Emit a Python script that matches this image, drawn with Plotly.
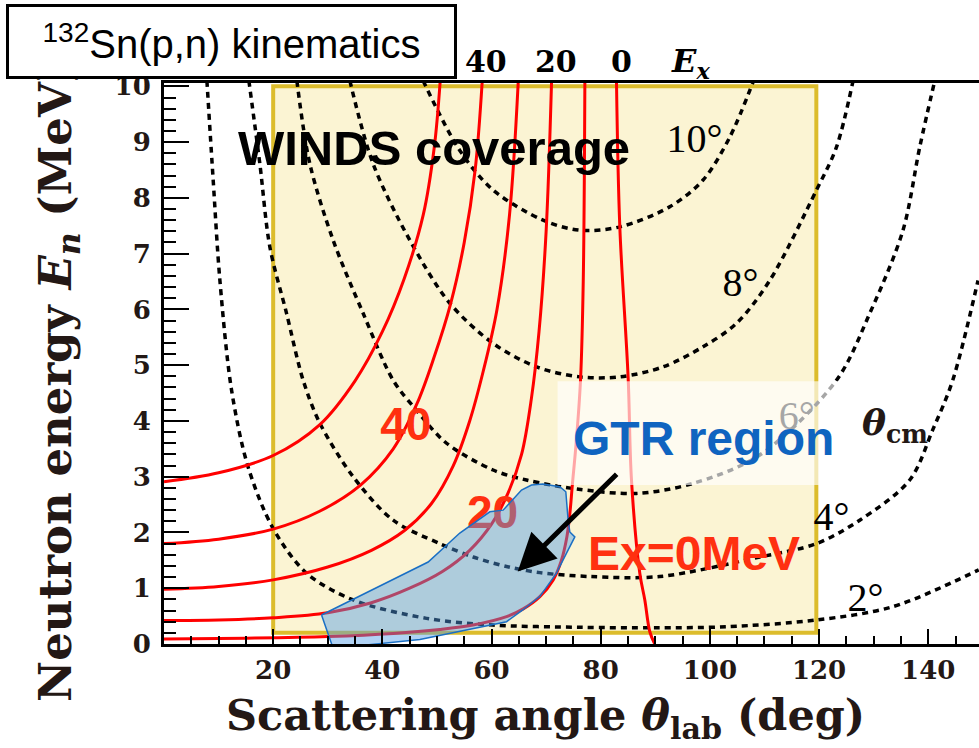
import plotly.graph_objects as go

# ---- Kinematic loci at fixed excitation energy Ex (lab angle in deg, neutron energy in MeV)
ex0_theta = [82.89, 83.50, 85.02, 85.64, 87.16, 88.08, 89.0, 89.9]
ex0_en = [10.1, 7.48, 4.79, 2.94, 1.27, 0.79, 0.22, 0.0]

ex10_theta = [0.0, 15.0, 30.0, 42.0, 50.5, 56.6, 62.75, 65.8, 68.85, 71.3, 72.8, 73.8, 74.35, 74.8, 75.5, 76.3, 76.8, 77.1]
ex10_en = [0.09, 0.105, 0.135, 0.19, 0.26, 0.34, 0.49, 0.63, 0.85, 1.15, 1.5, 1.92, 2.34, 2.85, 3.6, 4.73, 6.5, 10.1]

ex20_theta = [0.0, 10.0, 20.0, 30.0, 38.0, 45.0, 51.0, 56.0, 60.0, 63.0, 65.5, 67.3, 68.7, 70.0, 71.0]
ex20_en = [0.42, 0.43, 0.47, 0.56, 0.74, 1.0, 1.3, 1.68, 2.15, 2.7, 3.4, 4.4, 5.6, 7.4, 10.1]

ex30_theta = [0.0, 10.0, 20.0, 30.0, 38.0, 44.0, 49.0, 53.0, 56.0, 58.5, 61.0, 63.3, 64.9]
ex30_en = [0.98, 1.03, 1.15, 1.38, 1.68, 2.03, 2.52, 3.2, 4.0, 4.9, 6.0, 7.7, 10.1]

ex40_theta = [0.0, 10.0, 20.0, 28.5, 36.0, 42.0, 46.3, 49.5, 52.5, 55.0, 57.0, 58.3]
ex40_en = [1.80, 1.88, 2.06, 2.38, 2.85, 3.5, 4.3, 5.15, 6.1, 7.2, 8.5, 10.1]

ex50_theta = [0.0, 10.0, 20.0, 28.5, 35.0, 40.0, 44.0, 47.5, 49.5, 50.6]
ex50_en = [2.91, 3.07, 3.38, 3.93, 4.72, 5.6, 6.55, 7.7, 8.9, 10.1]

# ---- Loci at fixed centre-of-mass angle
cm2_theta = [7.86, 9.01, 10.24, 12.38, 15.42, 20.0, 26.12, 34.65, 48.10, 60.29, 76.17, 90.0, 103.04, 119.52, 133.55, 149.25]
cm2_en = [10.1, 8.32, 6.52, 4.55, 3.17, 2.07, 1.27, 0.79, 0.46, 0.34, 0.30, 0.29, 0.31, 0.43, 0.67, 1.33]

cm4_theta = [15.55, 17.56, 19.39, 22.45, 25.49, 28.55, 34.65, 41.98, 50.53, 56.63, 62.75, 68.85, 78.0, 90.82, 109.14, 119.52, 127.45, 136.61, 140.82, 144.49, 149.12]
cm4_en = [10.1, 8.61, 7.12, 5.93, 4.73, 3.96, 3.0, 2.22, 1.80, 1.56, 1.39, 1.28, 1.21, 1.21, 1.56, 1.80, 2.22, 2.94, 3.84, 4.73, 6.52]

cm6_theta = [24.34, 26.72, 30.99, 36.48, 41.98, 46.26, 51.76, 60.29, 66.41, 75.57, 86.56, 96.92, 109.14, 123.19, 129.29, 135.38, 138.44, 141.19]
cm6_en = [10.1, 8.61, 7.24, 5.93, 4.73, 4.19, 3.60, 3.12, 2.94, 2.78, 2.70, 2.88, 3.39, 4.73, 5.93, 7.42, 8.91, 10.1]

cm8_theta = [34.05, 38.31, 45.04, 52.36, 60.29, 68.24, 76.17, 83.50, 91.43, 98.75, 104.87, 110.97, 119.52, 123.19, 126.23]
cm8_en = [10.1, 8.61, 7.24, 6.11, 5.39, 4.97, 4.79, 4.79, 4.97, 5.33, 5.75, 6.52, 8.14, 8.91, 10.1]

cm10_theta = [47.47, 54.19, 60.29, 69.45, 76.17, 83.50, 92.66, 98.75, 103.65, 108.0]
cm10_en = [10.1, 8.85, 8.14, 7.60, 7.42, 7.48, 7.84, 8.32, 9.09, 10.1]

# ---- GTR region outline
gtr_theta = [28.86, 30.99, 39.85, 46.87, 62.75, 65.73, 68.85, 71.90, 73.74, 75.26, 74.34, 74.03,
             73.61, 72.51, 69.40, 67.33, 65.49, 62.12, 59.69, 54.19, 48.39, 28.86]
gtr_en = [0.52, -0.08, 0.01, 0.08, 0.40, 0.61, 0.85, 1.27, 1.63, 1.92, 2.01, 2.22,
          2.73, 2.82, 2.87, 2.85, 2.76, 2.40, 2.37, 1.99, 1.47, 0.52]

# ---- Labels
x_ticks = [20, 40, 60, 80, 100, 120, 140]
cm_labels = ["10°", "8°", "6°", "4°", "2°"]
cm_label_theta = [97.2, 105.6, 115.9, 122.3, 128.5]
cm_label_en = [9.0, 6.42, 4.03, 2.22, 0.77]
ex_top_labels = ["40", "20", "0"]
ex_top_theta = [58.96, 71.8, 83.9]

SERIF = "DejaVu Serif"
CMFONT = "Liberation Serif"
SANS = "Liberation Sans, Arial, sans-serif"
INK = "#231815"
RED = "#ff0000"
LABEL_RED = "#ff3010"

fig = go.Figure()

dot_style = dict(color="black", width=3.5, dash="6px,5px")
for tx, ty in [(cm2_theta, cm2_en), (cm4_theta, cm4_en), (cm6_theta, cm6_en),
               (cm8_theta, cm8_en), (cm10_theta, cm10_en)]:
    fig.add_trace(go.Scatter(x=tx, y=ty, mode="lines", line=dict(shape="spline", smoothing=0.9, **dot_style),
                             hoverinfo="skip"))

for tx, ty in [(ex0_theta, ex0_en), (ex10_theta, ex10_en), (ex20_theta, ex20_en),
               (ex30_theta, ex30_en), (ex40_theta, ex40_en), (ex50_theta, ex50_en)]:
    fig.add_trace(go.Scatter(x=tx, y=ty, mode="lines",
                             line=dict(color=RED, width=3, shape="spline", smoothing=1.0),
                             hoverinfo="skip"))

# theta_cm labels (regular serif)
fig.add_trace(go.Scatter(x=cm_label_theta, y=cm_label_en, mode="text", text=cm_labels,
                         textfont=dict(family=CMFONT, size=40, color="black"), hoverinfo="skip"))

# Ex labels on the curves
fig.add_trace(go.Scatter(x=[44.3, 60.2], y=[3.86, 2.29], mode="text", text=["40", "20"],
                         textfont=dict(family=SANS, size=46, color=LABEL_RED, weight="bold"),
                         hoverinfo="skip"))

# GTR region
fig.add_trace(go.Scatter(x=gtr_theta, y=gtr_en, mode="lines", fill="toself",
                         fillcolor="rgba(80,155,230,0.45)",
                         line=dict(color="#1a6fc4", width=1.5), hoverinfo="skip"))

# WINDS acceptance
fig.add_shape(type="rect", xref="x", yref="y", x0=20, x1=119.5, y0=0.2, y1=10.0,
              fillcolor="#fbf4d3", line=dict(color="#dcbc2c", width=4), layer="below")
# translucent backdrop behind the GTR caption
fig.add_shape(type="rect", xref="x", yref="y", x0=72.1, x1=125.5, y0=2.85, y1=4.71,
              fillcolor="rgba(255,255,255,0.65)", line=dict(width=0), layer="above")

ann = []
ann.append(dict(xref="paper", yref="paper", x=-0.131, y=0.4675, textangle=-90,
                text="Neutron energy <i>E</i><sub><i>n</i></sub> (MeV)", showarrow=False,
                font=dict(family=SERIF, size=45, color=INK, weight="bold"),
                xanchor="center", yanchor="middle"))
ann.append(dict(xref="paper", yref="paper", x=0.4675, y=-0.132,
                text="Scattering angle <i>θ</i><sub>lab</sub> (deg)", showarrow=False,
                font=dict(family=SERIF, size=43, color=INK, weight="bold"),
                xanchor="center", yanchor="middle"))
ann.append(dict(xref="paper", yref="paper", x=0.0834, y=1.0736, xanchor="center", yanchor="middle",
                text="<sup>132</sup>Sn(p,n) kinematics", showarrow=False,
                font=dict(family=SANS, size=40, color="black"),
                bordercolor="black", borderwidth=3, borderpad=0, bgcolor="white",
                width=445, height=69))
for lab, tx in zip(ex_top_labels, ex_top_theta):
    ann.append(dict(xref="x", yref="paper", x=tx, y=1.039, text=lab, showarrow=False,
                    xanchor="center", yanchor="middle",
                    font=dict(family=SERIF, size=30, color="black", weight="bold")))
ann.append(dict(xref="x", yref="paper", x=96.5, y=1.036, text="<i>E<sub>x</sub></i>", showarrow=False,
                xanchor="center", yanchor="middle",
                font=dict(family=SERIF, size=32, color="black", weight="bold")))
ann.append(dict(xref="x", yref="y", x=49.5, y=8.9, text="WINDS coverage", showarrow=False,
                font=dict(family=SANS, size=49, color="black", weight="bold")))
ann.append(dict(xref="x", yref="y", x=98.9, y=3.69, text="GTR region", showarrow=False,
                font=dict(family=SANS, size=48, color="#0f64c0", weight="bold")))
ann.append(dict(xref="x", yref="y", x=97.05, y=1.63, text="Ex=0MeV", showarrow=False,
                font=dict(family=SANS, size=48, color=LABEL_RED, weight="bold")))
ann.append(dict(xref="x", yref="y", x=134.0, y=3.92, text="<i>θ</i><sub>cm</sub>", showarrow=False,
                font=dict(family=SERIF, size=36, color=INK, weight="bold")))
ann.append(dict(xref="x", yref="y", x=64.8, y=1.30, ax=83.2, ay=3.07, axref="x", ayref="y",
                text="", showarrow=True, arrowhead=2, arrowsize=1.5, arrowwidth=5,
                arrowcolor="black"))

fig.update_layout(
    width=979, height=748,
    margin=dict(l=164, r=0, t=83, b=104),
    paper_bgcolor="white", plot_bgcolor="white",
    showlegend=False,
    annotations=ann,
    xaxis=dict(range=[0, 149.3], tickmode="array", tickvals=x_ticks,
               ticks="inside", ticklen=15, tickwidth=2, tickcolor="black",
               minor=dict(tickmode="linear", tick0=0, dtick=5, ticks="inside", ticklen=8,
                          tickwidth=2, tickcolor="black"),
               showline=True, linecolor="black", linewidth=3, mirror=True,
               showgrid=False, zeroline=False, ticklabelstandoff=1,
               tickfont=dict(family=SERIF, size=26, color=INK, weight="bold")),
    yaxis=dict(range=[0, 10.06], tickmode="linear", tick0=0, dtick=1,
               ticks="inside", ticklen=25, tickwidth=2, tickcolor="black",
               minor=dict(tickmode="linear", tick0=0, dtick=0.2, ticks="inside", ticklen=12,
                          tickwidth=2, tickcolor="black"),
               showline=True, linecolor="black", linewidth=3,
               showgrid=False, zeroline=False, ticklabelstandoff=5,
               tickfont=dict(family=SERIF, size=26, color=INK, weight="bold")),
)

fig.write_html("out.html")
